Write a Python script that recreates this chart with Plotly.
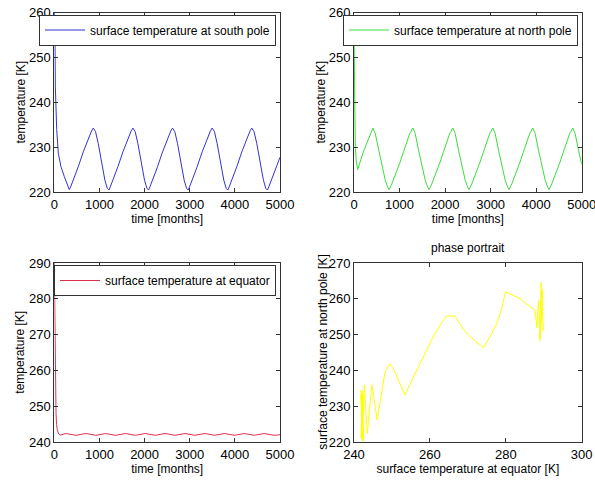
import plotly.graph_objects as go

# ---------------- data ----------------
south_t = [0, 8, 15, 23, 35, 53, 89, 148, 222, 290,
           332, 362, 421, 531, 642, 753, 826, 863, 914, 973, 1047, 1121, 1173,
           1210, 1240, 1299, 1409, 1520, 1631, 1704, 1741, 1792, 1851, 1925, 1999, 2051,
           2088, 2118, 2177, 2287, 2398, 2509, 2582, 2619, 2670, 2729, 2803, 2877, 2929,
           2966, 2996, 3055, 3165, 3276, 3387, 3460, 3497, 3548, 3607, 3681, 3755, 3807,
           3844, 3874, 3933, 4043, 4154, 4265, 4338, 4375, 4426, 4485, 4559, 4633, 4685,
           4722, 4752, 4811, 4921, 5000]
south_T = [261, 258, 254, 243.5, 238, 234, 228.7, 225.7, 223.5, 221.5,
           220.6, 221.2, 222.7, 225.7, 229.0, 232.0, 233.7, 234.3, 233.5, 230.9, 226.5, 222.7, 220.9,
           220.5, 221.2, 222.7, 225.7, 229.0, 232.0, 233.7, 234.3, 233.5, 230.9, 226.5, 222.7, 220.9,
           220.5, 221.2, 222.7, 225.7, 229.0, 232.0, 233.7, 234.3, 233.5, 230.9, 226.5, 222.7, 220.9,
           220.5, 221.2, 222.7, 225.7, 229.0, 232.0, 233.7, 234.3, 233.5, 230.9, 226.5, 222.7, 220.9,
           220.5, 221.2, 222.7, 225.7, 229.0, 232.0, 233.7, 234.3, 233.5, 230.9, 226.5, 222.7, 220.9,
           220.5, 221.2, 222.7, 225.7, 227.8]

north_t = [0, 5, 10, 15, 29, 50, 81, 205, 315, 415,
           466, 539, 613, 686, 737, 770, 821, 894, 1004, 1114, 1224, 1293,
           1344, 1417, 1491, 1564, 1615, 1648, 1699, 1772, 1882, 1992, 2102, 2171,
           2222, 2295, 2369, 2442, 2493, 2526, 2577, 2650, 2760, 2870, 2980, 3049,
           3100, 3173, 3247, 3320, 3371, 3404, 3455, 3528, 3638, 3748, 3858, 3927,
           3978, 4051, 4125, 4198, 4249, 4282, 4333, 4406, 4516, 4626, 4736, 4805,
           4856, 4929, 5000]
north_T = [256, 250, 242, 234, 230, 227, 225.1, 229.0, 232.0, 234.3,
           233.1, 229.4, 225.7, 222.7, 221.2, 220.6, 221.6, 223.5, 226.5, 229.8, 233.1, 234.3,
           233.1, 229.4, 225.7, 222.7, 221.2, 220.6, 221.6, 223.5, 226.5, 229.8, 233.1, 234.3,
           233.1, 229.4, 225.7, 222.7, 221.2, 220.6, 221.6, 223.5, 226.5, 229.8, 233.1, 234.3,
           233.1, 229.4, 225.7, 222.7, 221.2, 220.6, 221.6, 223.5, 226.5, 229.8, 233.1, 234.3,
           233.1, 229.4, 225.7, 222.7, 221.2, 220.6, 221.6, 223.5, 226.5, 229.8, 233.1, 234.3,
           233.1, 229.4, 226.2]

equator_t = [0, 5, 10, 18, 28, 38, 50, 67, 100, 126,
             260, 480, 699, 919, 1138, 1358, 1577, 1797, 2016, 2236, 2455, 2675,
             2894, 3114, 3333, 3553, 3772, 3992, 4211, 4431, 4650, 4870, 5000]
equator_T = [290, 283, 275, 265, 255, 248.1, 245, 243.4, 242.3, 242.0,
             242.45, 241.95, 242.45, 241.95, 242.45, 241.95, 242.45, 241.95, 242.45, 241.95, 242.45, 241.95,
             242.45, 241.95, 242.45, 241.95, 242.45, 241.95, 242.45, 241.95, 242.45, 241.95, 242.1]

phase_equator = [289.9, 289.3, 288.9, 289.7, 289.1, 288.6, 288.2, 287.7, 283.7, 280.0,
                 279.7, 278.8, 277.6, 275.8, 274.1, 270.1, 268.4, 266.6, 264.4, 263.5,
                 261.3, 257.4, 253.4, 251.7, 250.3, 249.4, 248.6, 248.1, 246.1, 244.7,
                 243.5, 242.7, 242.2, 241.9, 242.3, 242.0, 242.5, 241.8, 242.4, 242.1,
                 241.9, 242.3, 242.0]
phase_north = [251.0, 264.5, 248.2, 262.5, 249.0, 259.5, 252.0, 256.8, 260.1, 261.9,
               261.0, 256.8, 253.1, 249.4, 246.4, 249.9, 252.2, 255.2, 255.2, 254.0,
               250.3, 242.0, 233.2, 237.3, 240.8, 241.9, 240.5, 239.2, 226.2, 236.0,
               222.5, 236.0, 221.0, 234.5, 220.3, 234.0, 221.5, 233.0, 220.5, 234.4,
               221.5, 233.5, 220.8]

time_ticks = [0, 1000, 2000, 3000, 4000, 5000]

# ---------------- figure ----------------
W, H = 595, 481
FONT = "Liberation Sans, Arial, sans-serif"

def px_x(p):
    return p / W

def px_y(p):
    return 1 - p / H

fig = go.Figure()
fig.add_trace(go.Scatter(x=south_t, y=south_T, mode="lines",
                         line=dict(color="rgb(50,50,210)", width=1),
                         name="surface temperature at south pole",
                         xaxis="x", yaxis="y", legend="legend"))
fig.add_trace(go.Scatter(x=north_t, y=north_T, mode="lines",
                         line=dict(color="rgb(60,220,60)", width=1),
                         name="surface temperature at north pole",
                         xaxis="x2", yaxis="y2", legend="legend2"))
fig.add_trace(go.Scatter(x=equator_t, y=equator_T, mode="lines",
                         line=dict(color="rgb(220,50,80)", width=1),
                         name="surface temperature at equator",
                         xaxis="x3", yaxis="y3", legend="legend3"))
fig.add_trace(go.Scatter(x=phase_equator, y=phase_north, mode="lines",
                         line=dict(color="rgb(255,255,0)", width=1),
                         name="phase portrait", showlegend=False,
                         xaxis="x4", yaxis="y4"))

axis_style = dict(showline=True, linecolor="#333333", linewidth=1, mirror="allticks",
                  ticks="inside", ticklen=4, tickcolor="#333333", showgrid=False,
                  zeroline=False, tickfont=dict(family=FONT, size=13, color="black"),
                  automargin=False, ticklabeloverflow="allow")

L_left, L_right = px_x(54.3), px_x(280)
R_left, R_right = px_x(354), px_x(581.7)
T_bot, T_top = px_y(192.3), px_y(12.7)
B_bot, B_top = px_y(442.3), px_y(263)

def xt(text, standoff=3):
    return dict(text=text, font=dict(family=FONT, size=12, color="black"), standoff=standoff)

legend_style = dict(xanchor="right", yanchor="top", bgcolor="white",
                    bordercolor="#333333", borderwidth=1, itemwidth=40,
                    font=dict(family=FONT, size=12, color="black"))

def ytitle(text, xpx, ybot, ytop):
    return dict(text=text, x=px_x(xpx), y=(ybot + ytop) / 2, xref="paper", yref="paper",
                xanchor="center", yanchor="middle", textangle=-90, showarrow=False,
                font=dict(family=FONT, size=12, color="black"))

fig.update_layout(
    width=W, height=H, margin=dict(l=0, r=0, t=0, b=0),
    paper_bgcolor="white", plot_bgcolor="white",
    font=dict(family=FONT, size=12, color="black"),
    xaxis=dict(domain=[L_left, L_right], range=[0, 5000], tickvals=time_ticks,
               anchor="y", title=xt("time [months]"), **axis_style),
    yaxis=dict(domain=[T_bot, T_top], range=[220, 260], dtick=10,
               anchor="x", **axis_style),
    xaxis2=dict(domain=[R_left, R_right], range=[0, 5000], tickvals=time_ticks,
                anchor="y2", title=xt("time [months]"), **axis_style),
    yaxis2=dict(domain=[T_bot, T_top], range=[220, 260], dtick=10,
                anchor="x2", **axis_style),
    xaxis3=dict(domain=[L_left, L_right], range=[0, 5000], tickvals=time_ticks,
                anchor="y3", title=xt("time [months]"), **axis_style),
    yaxis3=dict(domain=[B_bot, B_top], range=[240, 290], dtick=10,
                anchor="x3", **axis_style),
    xaxis4=dict(domain=[R_left, R_right], range=[240, 300], dtick=20,
                anchor="y4", title=xt("surface temperature at equator [K]"), **axis_style),
    yaxis4=dict(domain=[B_bot, B_top], range=[220, 270], dtick=10,
                anchor="x4", **axis_style),
    legend=dict(x=px_x(276), y=px_y(14.5), **legend_style),
    legend2=dict(x=px_x(578), y=px_y(14.5), **legend_style),
    legend3=dict(x=px_x(276), y=px_y(265), **legend_style),
    annotations=[
        dict(text="phase portrait", x=(R_left + R_right) / 2, y=px_y(248.3),
             xref="paper", yref="paper", xanchor="center", yanchor="middle",
             showarrow=False, font=dict(family=FONT, size=12, color="black")),
        ytitle("temperature [K]", 20, T_bot, T_top),
        ytitle("temperature [K]", 320, T_bot, T_top),
        ytitle("temperature [K]", 20, B_bot, B_top),
        ytitle("surface temperature at north pole [K]", 323, B_bot, B_top),
    ],
)

fig.write_html("out.html")
